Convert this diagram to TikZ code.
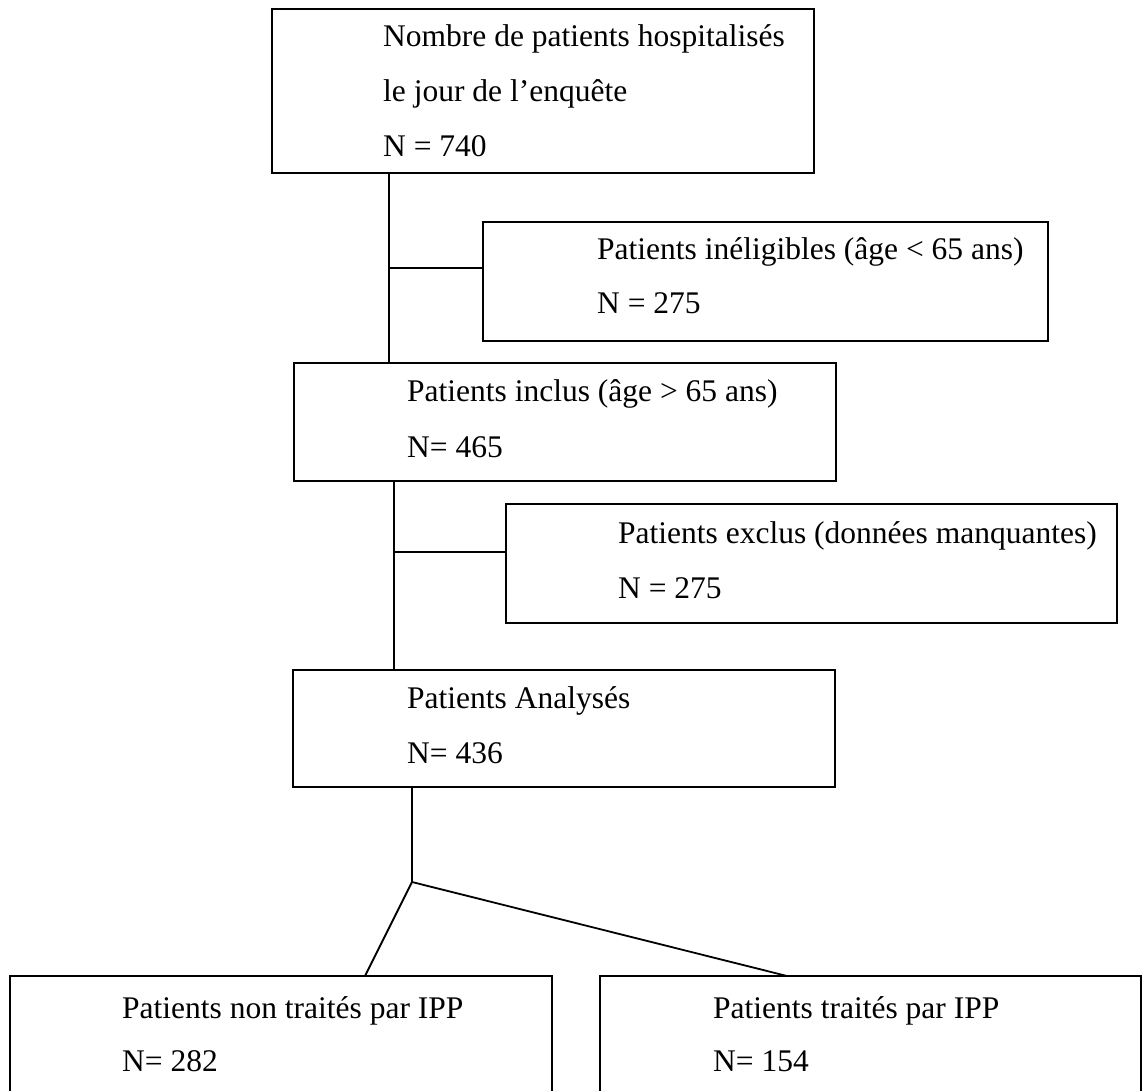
\documentclass[tikz,border=0pt]{standalone}
\usepackage{fontspec}
\setmainfont{Liberation Serif}
\usetikzlibrary{calc}
\begin{document}
\begin{tikzpicture}[x=1pt,y=-1pt,
  box/.style={draw, line width=1.8pt, rectangle, inner sep=0pt, outer sep=0pt, anchor=north west},
  txt/.style={anchor=base west, inner sep=0pt, font=\fontsize{31.5}{55}\selectfont},
  conn/.style={line width=1.8pt}]
\clip (0,0) rectangle (1144,1091);
% boxes
\node[box, minimum width=542pt, minimum height=164pt] (b1) at (272,9) {};
\node[box, minimum width=565pt, minimum height=119pt] (b2) at (483,222) {};
\node[box, minimum width=542pt, minimum height=118pt] (b3) at (294,363) {};
\node[box, minimum width=611pt, minimum height=119pt] (b4) at (506,504) {};
\node[box, minimum width=542pt, minimum height=117pt] (b5) at (293,670) {};
\node[box, minimum width=542pt, minimum height=130pt] (b6) at (10,976) {};
\node[box, minimum width=541pt, minimum height=130pt] (b7) at (600,976) {};
% texts
\node[txt] (t1a) at ($(b1.north west)+(111,38)$) {Nombre de patients hospitalisés};
\node[txt] (t1b) at ($(b1.north west)+(111,93)$) {le jour de l’enquête};
\node[txt] (t1c) at ($(b1.north west)+(111,148)$) {N = 740};
\node[txt] (t2a) at ($(b2.north west)+(114,38)$) {Patients inéligibles (âge < 65 ans)};
\node[txt] (t2b) at ($(b2.north west)+(114,92)$) {N = 275};
\node[txt] (t3a) at ($(b3.north west)+(113,39)$) {Patients inclus (âge > 65 ans)};
\node[txt] (t3b) at ($(b3.north west)+(113,94)$) {N= 465};
\node[txt] (t4a) at ($(b4.north west)+(112,39)$) {Patients exclus (données manquantes)};
\node[txt] (t4b) at ($(b4.north west)+(112,94)$) {N = 275};
\node[txt] (t5a) at ($(b5.north west)+(114,38)$) {Patients Analysés};
\node[txt] (t5b) at ($(b5.north west)+(114,93)$) {N= 436};
\node[txt] (t6a) at ($(b6.north west)+(112,42)$) {Patients non traités par IPP};
\node[txt] (t6b) at ($(b6.north west)+(112,95)$) {N= 282};
\node[txt] (t7a) at ($(b7.north west)+(113,42)$) {Patients traités par IPP};
\node[txt] (t7b) at ($(b7.north west)+(113,95)$) {N= 154};
% junctions
\coordinate (j1) at (389,268);
\coordinate (j2) at (394,552);
\coordinate (j3) at (412,882);
% connectors
\draw[conn] (j1 |- b1.south) -- (j1 |- b3.north);
\draw[conn] (j1) -- (j1 -| b2.west);
\draw[conn] (j2 |- b3.south) -- (j2 |- b5.north);
\draw[conn] (j2) -- (j2 -| b4.west);
\draw[conn] (j3 |- b5.south) -- (j3);
\draw[conn] (j3) -- ($(b6.north west)+(355,0)$);
\draw[conn] (j3) -- ($(b7.north west)+(187,0)$);
\end{tikzpicture}
\end{document}
